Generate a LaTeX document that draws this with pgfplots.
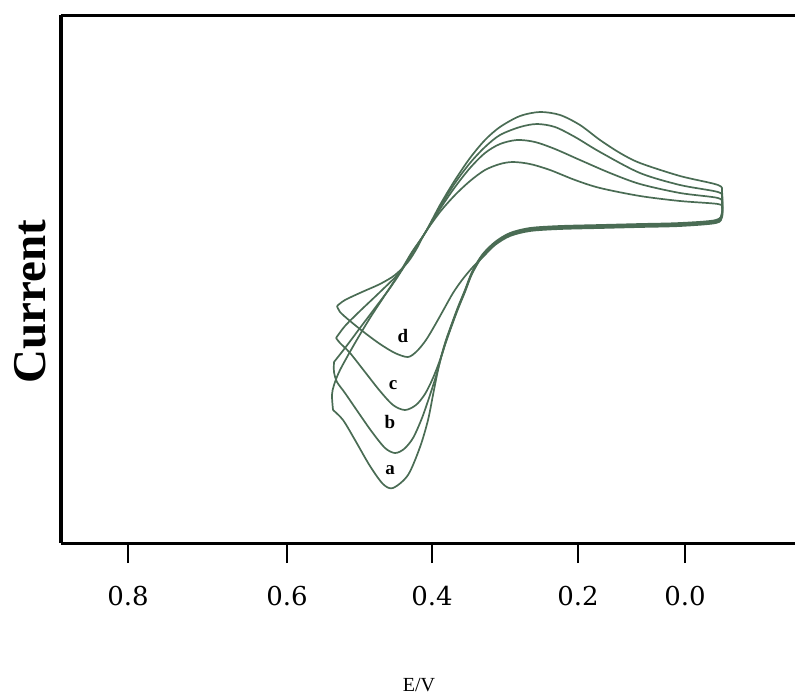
\documentclass[border=0pt]{standalone}
\usepackage{fontspec}
\setmainfont{Liberation Serif}
\newfontfamily\tickfont{DejaVu Serif}
\usepackage{pgfplots}
\pgfplotsset{compat=1.18}
\definecolor{cv}{RGB}{74,108,84}
\begin{document}
\begin{tikzpicture}
\path[use as bounding box] (-30.5pt,-75pt) rectangle (367pt,271.5pt);
\begin{axis}[
  scale only axis, width=367pt, height=264pt,
  at={(0,0)}, anchor=south west,
  x dir=reverse, xmin=-0.12857, xmax=0.92, ymin=0, ymax=5.28,
  axis line style={draw=none},
  ytick=\empty,
  xtick={0.8243,0.5971,0.39,0.1814,0.0286},
  xticklabels={0.8,0.6,0.4,0.2,0.0},
  xtick pos=bottom,
  tick align=outside, major tick length=10pt,
  xtick style={black, line width=0.6pt},
  xticklabel style={font=\tickfont\fontsize{13}{15}\selectfont, yshift=-8pt},
  clip=false,
]
\addplot[cv, line width=0.85pt, smooth, tension=0.5, no marks] coordinates {
(0.5314,1.33) (0.5329,1.48) (0.5300,1.58) (0.5214,1.73) (0.5000,2.00) (0.4786,2.25) (0.4571,2.48) (0.4357,2.71) (0.4186,2.91) (0.4000,3.10) (0.3786,3.38) (0.3571,3.63) (0.3357,3.85) (0.3143,4.03) (0.2929,4.16) (0.2643,4.27) (0.2357,4.31) (0.2071,4.28) (0.1786,4.18) (0.1500,4.03) (0.1214,3.90) (0.0929,3.80) (0.0357,3.67) (-0.0186,3.58) (-0.0243,3.51) (-0.0243,3.31) (-0.0157,3.23) (0.0357,3.20) (0.0929,3.19) (0.1500,3.18) (0.2071,3.17) (0.2500,3.15) (0.2786,3.10) (0.3000,3.01) (0.3186,2.88) (0.3329,2.71) (0.3429,2.53) (0.3529,2.36) (0.3614,2.20) (0.3700,2.03) (0.3771,1.86) (0.3829,1.68) (0.3886,1.48) (0.3957,1.23) (0.4071,0.96) (0.4243,0.68) (0.4457,0.55) (0.4600,0.59) (0.4786,0.77) (0.5000,1.03) (0.5171,1.23) (0.5314,1.33)
};
\addplot[cv, line width=0.85pt, smooth, tension=0.5, no marks] coordinates {
(0.5300,1.81) (0.5143,1.95) (0.4929,2.15) (0.4714,2.35) (0.4500,2.55) (0.4329,2.73) (0.4171,2.92) (0.4000,3.10) (0.3786,3.36) (0.3571,3.60) (0.3357,3.80) (0.3143,3.96) (0.2929,4.08) (0.2643,4.16) (0.2400,4.19) (0.2143,4.16) (0.1857,4.06) (0.1500,3.91) (0.0929,3.70) (0.0357,3.58) (-0.0186,3.51) (-0.0243,3.45) (-0.0243,3.30) (-0.0157,3.22) (0.0357,3.19) (0.0929,3.18) (0.1500,3.17) (0.2071,3.16) (0.2500,3.14) (0.2786,3.09) (0.3000,3.00) (0.3186,2.87) (0.3329,2.70) (0.3429,2.52) (0.3529,2.35) (0.3614,2.19) (0.3700,2.02) (0.3771,1.85) (0.3843,1.67) (0.3929,1.48) (0.4043,1.25) (0.4171,1.05) (0.4300,0.94) (0.4429,0.90) (0.4571,0.95) (0.4757,1.11) (0.4957,1.31) (0.5143,1.50) (0.5257,1.61) (0.5300,1.71) (0.5300,1.81)
};
\addplot[cv, line width=0.85pt, smooth, tension=0.5, no marks] coordinates {
(0.5271,2.05) (0.5143,2.17) (0.4929,2.32) (0.4643,2.51) (0.4357,2.71) (0.4171,2.91) (0.4000,3.10) (0.3786,3.34) (0.3571,3.56) (0.3357,3.75) (0.3143,3.90) (0.2929,3.99) (0.2686,4.03) (0.2429,4.01) (0.2143,3.94) (0.1786,3.83) (0.1357,3.70) (0.0929,3.59) (0.0357,3.50) (-0.0186,3.45) (-0.0243,3.39) (-0.0243,3.28) (-0.0157,3.21) (0.0357,3.18) (0.0929,3.17) (0.1500,3.16) (0.2071,3.15) (0.2500,3.13) (0.2786,3.08) (0.3000,2.99) (0.3186,2.86) (0.3329,2.69) (0.3429,2.51) (0.3529,2.34) (0.3614,2.18) (0.3700,2.01) (0.3786,1.83) (0.3886,1.65) (0.4000,1.49) (0.4129,1.38) (0.4286,1.33) (0.4457,1.38) (0.4643,1.52) (0.4857,1.71) (0.5071,1.90) (0.5214,2.00) (0.5271,2.05)
};
\addplot[cv, line width=0.85pt, smooth, tension=0.5, no marks] coordinates {
(0.5257,2.37) (0.5143,2.43) (0.4900,2.51) (0.4643,2.59) (0.4429,2.68) (0.4243,2.81) (0.4114,2.95) (0.4000,3.10) (0.3786,3.31) (0.3571,3.48) (0.3357,3.62) (0.3143,3.73) (0.2929,3.79) (0.2743,3.81) (0.2500,3.79) (0.2214,3.73) (0.1857,3.63) (0.1500,3.55) (0.0929,3.47) (0.0357,3.42) (-0.0186,3.39) (-0.0243,3.35) (-0.0243,3.26) (-0.0157,3.20) (0.0357,3.17) (0.0929,3.16) (0.1500,3.15) (0.2071,3.14) (0.2500,3.12) (0.2786,3.07) (0.3000,2.98) (0.3186,2.85) (0.3329,2.75) (0.3471,2.63) (0.3600,2.50) (0.3729,2.34) (0.3857,2.18) (0.3986,2.03) (0.4114,1.92) (0.4243,1.86) (0.4429,1.90) (0.4643,1.99) (0.4857,2.10) (0.5071,2.22) (0.5214,2.31) (0.5257,2.37)
};
\node[font=\bfseries\fontsize{9.5}{10}\selectfont] at (axis cs:0.4314,2.07) {d};
\node[font=\bfseries\fontsize{9.5}{10}\selectfont] at (axis cs:0.4457,1.58) {c};
\node[font=\bfseries\fontsize{9.5}{10}\selectfont] at (axis cs:0.45,1.21) {b};
\node[font=\bfseries\fontsize{9.5}{10}\selectfont] at (axis cs:0.45,0.73) {a};
\draw[line width=1.5pt] (rel axis cs:1,1) -- (rel axis cs:0,1);
\draw[line width=1.5pt] (rel axis cs:0,0) -- (rel axis cs:1,0);
\draw[line width=2.2pt] (rel axis cs:0,1) -- (rel axis cs:0,0);
\end{axis}
\node[rotate=90, font=\bfseries\fontsize{23.5}{25}\selectfont] at (-15.5pt,120.5pt) {Current};
\node[anchor=base, font=\fontsize{10}{12}\selectfont, inner sep=0pt] at (179pt,-74pt) {E/V};
\end{tikzpicture}
\end{document}
